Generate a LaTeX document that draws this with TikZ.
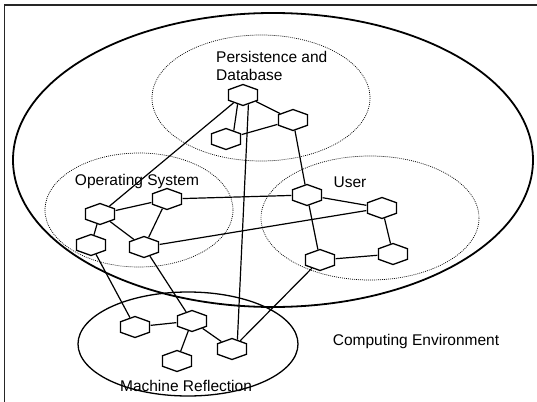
\documentclass[tikz,border=0pt]{standalone}
\usepackage{fontspec}
\setmainfont{Liberation Sans}
\usetikzlibrary{shapes.geometric}
\tikzset{
  hexnode/.style={draw, fill=white, regular polygon, regular polygon sides=6,
    shape border rotate=30, minimum size=21pt, inner sep=0pt, xscale=1.6,
    line width=1.3pt},
  link/.style={line width=1.2pt},
  zone/.style={draw, dash pattern=on 0.9pt off 1.1pt, line width=0.7pt},
  lbl/.style={font=\fontsize{15.5}{18}\selectfont, inner sep=0pt}
}
\begin{document}
\begin{tikzpicture}[x=1pt,y=-1pt]
  \useasboundingbox (0,0) rectangle (537,401);
  % frame
  \draw[line width=1.4pt, black!85] (4.5,402) -- (4.5,5) -- (538,5);
  % regions
  \draw[line width=1.8pt] (273,160) ellipse (260 and 147);
  \draw[line width=1.3pt] (188,344) ellipse (110 and 52);
  \draw[zone] (261,98) ellipse (109 and 63);
  \draw[zone] (139,210) ellipse (94 and 57);
  \draw[zone] (370,218) ellipse (109 and 62);
  % labels
  \node[lbl, anchor=west, align=left] (pdbl) at (216,66) {Persistence and\\Database};
  \node[lbl] (osl) at (137,181) {Operating System};
  \node[lbl] (usrl) at (350,182) {User};
  \node[lbl] (envl) at (416,341) {Computing Environment};
  \node[lbl] (mrl) at (186,386) {Machine Reflection};
  % persistence and database
  \node[hexnode] (p1) at (243,95) {};
  \node[hexnode] (p2) at (293,120) {};
  \node[hexnode] (p3) at (226,139) {};
  % operating system
  \node[hexnode] (os1) at (100,214) {};
  \node[hexnode] (os2) at (167,199) {};
  \node[hexnode] (os3) at (91,245) {};
  \node[hexnode] (os4) at (144,247) {};
  % user
  \node[hexnode] (u1) at (307,195) {};
  \node[hexnode] (u2) at (382,208) {};
  \node[hexnode] (u3) at (320,260) {};
  \node[hexnode] (u4) at (393,254) {};
  % machine reflection
  \node[hexnode] (m1) at (135,327) {};
  \node[hexnode] (m2) at (192,321) {};
  \node[hexnode] (m3) at (177,361) {};
  \node[hexnode] (m4) at (232,349) {};
  % links
  \draw[link] (p1.250) -- (p3.60);
  \draw[link] (p1) -- (p2);
  \draw[link] (p3) -- (p2);
  \draw[link] (p1) -- (os1);
  \draw[link] (p2) -- (u1);
  \draw[link] (p1.290) -- (m4.70);
  \draw[link] (os1) -- (os2);
  \draw[link] (os1) -- (os3);
  \draw[link] (os1) -- (os4);
  \draw[link] (os2) -- (os4);
  \draw[link] (os2) -- (u1);
  \draw[link] (os4) -- (u2);
  \draw[link] (u1) -- (u2);
  \draw[link] (u1) -- (u3);
  \draw[link] (u2) -- (u4);
  \draw[link] (u3) -- (u4);
  \draw[link] (u3) -- (m4);
  \draw[link] (os3) -- (m1);
  \draw[link] (os4) -- (m2);
  \draw[link] (m1) -- (m2);
  \draw[link] (m2) -- (m3);
  \draw[link] (m2) -- (m4);
\end{tikzpicture}
\end{document}
